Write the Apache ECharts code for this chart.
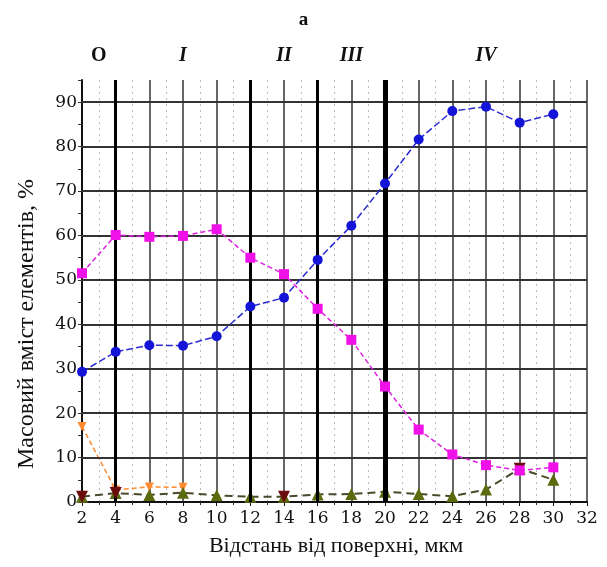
<!DOCTYPE html>
<html>
<head>
<meta charset="utf-8">
<script src="https://cdn.jsdelivr.net/npm/echarts@6/dist/echarts.min.js"></script>
<style>html,body{margin:0;padding:0;background:#fff}#c{width:607px;height:567px}</style>
</head>
<body>
<div id="c"></div>
<script>
const distance = [2, 4, 6, 8, 10, 12, 14, 16, 18, 20, 22, 24, 26, 28, 30];
const blueSeries = [29.3, 33.8, 35.3, 35.2, 37.3, 44, 46, 54.5, 62.2, 71.7, 81.6, 88, 89, 85.4, 87.3];
const magentaSeries = [51.5, 60.1, 59.7, 59.9, 61.4, 55, 51.3, 43.5, 36.5, 26, 16.3, 10.7, 8.3, 7.1, 7.8];
const orangeSeries = [17, 2.7, 3.4, 3.3, null, null, null, null, null, null, null, null, null, null, null];
const oliveSeries = [1.2, 2.0, 1.6, 2.1, 1.5, 1.2, 1.2, 1.7, 1.8, 2.3, 1.8, 1.3, 2.8, 7.5, 5.0];
const maroonSeries = [1.2, 2.0, null, null, null, null, 1.2, null, null, null, null, null, null, 7.5, null];
const boundaries = [4, 12, 16, 20];
const boundaryWidths = [3, 3, 3, 5];
const regionX = [3, 8, 14, 18, 26];
const regionNames = ['O', 'I', 'II', 'III', 'IV'];
const yGrid = [10, 20, 30, 40, 50, 60, 70, 80, 90];

const chart = echarts.init(document.getElementById('c'));
const pairs = arr => distance.map((d, i) => [d, arr[i]]);
const serif = 'DejaVu Serif';

chart.setOption({
  animation: false,
  backgroundColor: '#fff',
  title: {
    text: 'a', left: 'center', top: 6,
    textStyle: { fontFamily: 'Liberation Serif', fontSize: 19, fontWeight: 'bold', color: '#111' }
  },
  grid: { left: 82, right: 20, top: 80, bottom: 65 },
  xAxis: [{
    type: 'value', min: 2, max: 32, interval: 2,
    axisLine: { lineStyle: { color: '#111', width: 2 } },
    axisTick: { show: true, length: 4, lineStyle: { color: '#111' } },
    minorTick: { show: true, splitNumber: 2, length: 3, lineStyle: { color: '#333' } },
    axisLabel: { fontFamily: serif, fontSize: 17, color: '#111', margin: 8 },
    splitLine: { show: true, lineStyle: { color: '#666', width: 2 } },
    minorSplitLine: { show: true, lineStyle: { color: '#bbb', type: [2, 4], width: 1 } }
  }, {
    type: 'value', min: 2, max: 32, interval: 1, position: 'top',
    axisLine: { show: false }, axisTick: { show: false }, splitLine: { show: false },
    axisLabel: {
      margin: 14,
      showMinLabel: true, showMaxLabel: true,
      formatter: v => {
        const k = regionX.indexOf(v);
        if (k < 0) return '';
        return k === 0 ? '{n|' + regionNames[k] + '}' : '{i|' + regionNames[k] + '}';
      },
      rich: {
        n: { fontFamily: 'Liberation Serif', fontSize: 20, fontWeight: 'bold', color: '#111' },
        i: { fontFamily: 'Liberation Serif', fontSize: 20, fontWeight: 'bold', fontStyle: 'italic', color: '#111' }
      }
    }
  }],
  yAxis: {
    type: 'value', min: 0, max: 95, interval: 5,
    axisLine: { show: true, lineStyle: { color: '#111', width: 2 } },
    axisTick: { show: true, length: 4, lineStyle: { color: '#333' } },
    axisLabel: { fontFamily: serif, fontSize: 17, color: '#111', margin: 5,
      formatter: v => (v % 10 === 0 ? String(v) : '') },
    splitLine: { show: false }
  },
  graphic: [{
    type: 'text', x: 27, y: 324, rotation: Math.PI / 2,
    style: { text: 'Масовий вміст елементів, %', fontFamily: 'Liberation Serif', fontSize: 24,
      fill: '#111', align: 'center', verticalAlign: 'middle' }
  }, {
    type: 'text', x: 336, y: 546,
    style: { text: 'Відстань від поверхні, мкм', fontFamily: 'Liberation Serif', fontSize: 22,
      fill: '#111', align: 'center', verticalAlign: 'middle' }
  }],
  series: [{
    type: 'line', data: [], silent: true,
    markLine: {
      symbol: 'none', silent: true, label: { show: false },
      lineStyle: { color: '#333', width: 1.8, type: 'solid' },
      data: yGrid.map(v => ({ yAxis: v }))
    }
  }, {
    type: 'line', data: [], silent: true, z: 3,
    markLine: {
      symbol: 'none', silent: true, label: { show: false },
      data: boundaries.map((b, i) => ({ xAxis: b, lineStyle: { color: '#000', width: boundaryWidths[i], type: 'solid' } }))
    }
  }, {
    name: 'orange', type: 'line', data: pairs(orangeSeries), z: 4,
    symbol: 'triangle', symbolRotate: 180, symbolSize: 9,
    itemStyle: { color: '#ff8a30' },
    lineStyle: { color: '#ff8a30', width: 1.5, type: [5, 3] }
  }, {
    name: 'olive', type: 'line', data: pairs(oliveSeries), z: 4,
    symbol: 'triangle', symbolSize: 12,
    itemStyle: { color: '#5c6a0e' },
    lineStyle: { color: '#4a4a2a', width: 2, type: [8, 5] }
  }, {
    name: 'maroon', type: 'line', data: pairs(maroonSeries), z: 5,
    symbol: 'triangle', symbolRotate: 180, symbolSize: 12,
    itemStyle: { color: '#6b0d0d' },
    lineStyle: { opacity: 0 }
  }, {
    name: 'magenta', type: 'line', data: pairs(magentaSeries), z: 6,
    symbol: 'rect', symbolSize: 10,
    itemStyle: { color: '#f010e8' },
    lineStyle: { color: '#e020e0', width: 1.5, type: [5, 3] }
  }, {
    name: 'blue', type: 'line', data: pairs(blueSeries), z: 7,
    symbol: 'circle', symbolSize: 10,
    itemStyle: { color: '#1414d8' },
    lineStyle: { color: '#2a2ad0', width: 1.5, type: [7, 3] }
  }]
});
</script>
</body>
</html>
